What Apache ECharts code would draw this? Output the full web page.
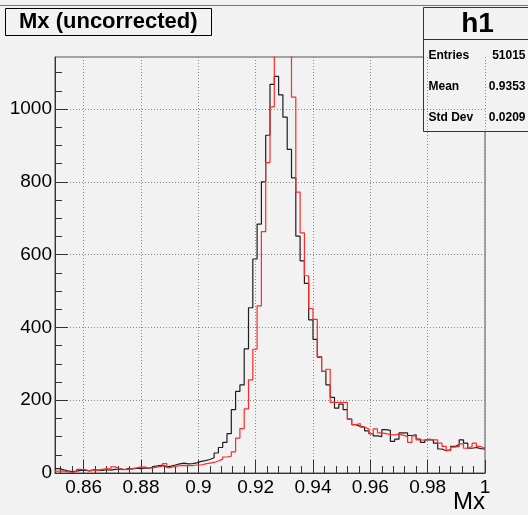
<!DOCTYPE html>
<html>
<head>
<meta charset="utf-8">
<script src="https://cdn.jsdelivr.net/npm/echarts@6/dist/echarts.min.js"></script>
<style>
  html, body { margin: 0; padding: 0; background: #f2f2f2; }
  #chart { width: 528px; height: 515px; }
</style>
</head>
<body>
<div id="chart"></div>
<script>
// histogram binning: 100 bins of 0.0015 from 0.85 to 1.0
const xLo = 0.85
const xHi = 1.0
const binWidth = 0.0015

// black histogram (h1)
const blackCounts = [
  12, 9, 6, 4, 5, 7, 8, 6, 9, 8,
  7, 9, 8, 10, 11, 9, 12, 11, 13, 12,
  14, 13, 18, 20, 21, 17, 19, 22, 25, 27,
  25, 26, 28, 32, 34, 37, 42, 55, 70, 84,
  108, 174, 224, 242, 341, 454, 588, 684, 800, 928,
  1068, 1090, 1039, 978, 889, 811, 651, 583, 521, 421,
  367, 318, 279, 242, 208, 178, 189, 174, 148, 133,
  128, 126, 116, 108, 102, 100, 119, 117, 87, 93,
  110, 110, 103, 105, 93, 84, 91, 91, 82, 66,
  61, 64, 73, 78, 91, 82, 68, 70, 67, 66
]

// red histogram (peak bins run off the top of the frame)
const redCounts = [
  5, 6, 3, 2, 4, 10, 9, 6, 8, 7,
  10, 12, 11, 17, 13, 10, 9, 12, 14, 17,
  16, 13, 15, 17, 19, 26, 15, 18, 20, 21,
  20, 20, 22, 22, 25, 27, 29, 33, 38, 44,
  46, 58, 96, 122, 176, 256, 340, 459, 663, 853,
  1006, 1250, 1420, 1380, 1200, 1033, 772, 660, 542, 452,
  422, 320, 279, 285, 194, 194, 194, 194, 148, 133,
  136, 126, 121, 108, 121, 110, 108, 105, 105, 107,
  104, 100, 84, 102, 91, 90, 93, 91, 91, 82,
  73, 62, 71, 73, 80, 68, 73, 82, 73, 68
]

const yMax = 1143
const xMajorTicks = [0.86, 0.88, 0.9, 0.92, 0.94, 0.96, 0.98, 1.0]
const yMajorTicks = [0, 200, 400, 600, 800, 1000]

// minor ticks: 5 divisions on x, 4 on y (ROOT style)
const xMinorTicks = []
for (let v = 0.852; v < xHi; v += 0.004) {
  const r = +v.toFixed(3)
  if (!xMajorTicks.some(m => Math.abs(m - r) < 1e-6)) xMinorTicks.push(r)
}
const yMinorTicks = []
for (let v = 50; v < yMax; v += 50) {
  if (v % 200 !== 0) yMinorTicks.push(v)
}

const statsRows = [
  ['Entries', '51015'],
  ['Mean', '0.9353'],
  ['Std Dev', '0.0209']
]

function histData (counts) {
  const pts = counts.map((c, i) => [+(xLo + i * binWidth).toFixed(5), c])
  pts.push([xHi, counts[counts.length - 1]])
  return pts
}

const font = 'Liberation Sans'
const gridLine = { show: true, lineStyle: { color: '#8a8a8a', type: [1, 2], width: 1 } }

const chart = echarts.init(document.getElementById('chart'))
chart.setOption({
  animation: false,
  backgroundColor: '#f2f2f2',
  textStyle: { fontFamily: font },
  title: {
    text: 'Mx (uncorrected)',
    left: 5,
    top: 8,
    padding: [3, 14, 3, 14],
    borderColor: '#000',
    borderWidth: 1,
    backgroundColor: '#f2f2f2',
    textStyle: { fontFamily: font, fontWeight: 'bold', fontSize: 22, color: '#000', lineHeight: 22 }
  },
  grid: {
    left: 55, right: 43, top: 57, bottom: 42,
    show: true, borderColor: '#555', borderWidth: 1, backgroundColor: 'transparent'
  },
  xAxis: [
    {
      type: 'value', min: xLo, max: xHi, position: 'bottom',
      axisLine: { show: true, lineStyle: { color: '#333' } },
      axisTick: { show: true, inside: true, length: 13, customValues: xMajorTicks, lineStyle: { color: '#333' } },
      axisLabel: {
        customValues: xMajorTicks, margin: 5, fontSize: 19, color: '#000', fontFamily: font,
        formatter: v => String(+v.toFixed(2))
      },
      splitLine: gridLine,
      name: 'Mx', nameLocation: 'end', nameGap: -32, nameMoveOverlap: false,
      nameTextStyle: {
        fontSize: 24, color: '#000', fontFamily: font,
        align: 'left', verticalAlign: 'top', padding: [17, 0, 0, 0]
      }
    },
    {
      type: 'value', min: xLo, max: xHi, position: 'bottom',
      axisLine: { show: false },
      axisTick: { show: true, inside: true, length: 7, customValues: xMinorTicks, lineStyle: { color: '#333' } },
      axisLabel: { show: false },
      splitLine: { show: false }
    }
  ],
  yAxis: [
    {
      type: 'value', min: 0, max: yMax, position: 'left',
      axisLine: { show: true, lineStyle: { color: '#333' } },
      axisTick: { show: true, inside: true, length: 13, customValues: yMajorTicks, lineStyle: { color: '#333' } },
      axisLabel: {
        customValues: yMajorTicks, margin: 3, fontSize: 19, color: '#000', fontFamily: font,
        formatter: v => String(v)
      },
      splitLine: gridLine
    },
    {
      type: 'value', min: 0, max: yMax, position: 'left',
      axisLine: { show: false },
      axisTick: { show: true, inside: true, length: 7, customValues: yMinorTicks, lineStyle: { color: '#333' } },
      axisLabel: { show: false },
      splitLine: { show: false }
    }
  ],
  series: [
    {
      name: 'h1', type: 'line', step: 'end', symbol: 'none',
      xAxisIndex: 0, yAxisIndex: 0, clip: true,
      lineStyle: { color: '#1e1e1e', width: 1.2 },
      data: histData(blackCounts)
    },
    {
      name: 'h2', type: 'line', step: 'end', symbol: 'none',
      xAxisIndex: 0, yAxisIndex: 0, clip: true,
      lineStyle: { color: '#ff2a2a', width: 1.2 },
      data: histData(redCounts)
    }
  ],
  graphic: [
    { type: 'line', shape: { x1: 0, y1: 5.5, x2: 528, y2: 5.5 }, style: { stroke: '#ff3b3b', lineWidth: 1 }, z: 100 },
    {
      type: 'group', left: 421, top: 7, z: 100,
      children: [
        { type: 'rect', shape: { x: 0, y: 0, width: 120, height: 124 }, style: { fill: '#f2f2f2', stroke: '#333', lineWidth: 1 } },
        { type: 'line', shape: { x1: 0, y1: 32, x2: 120, y2: 32 }, style: { stroke: '#333', lineWidth: 1 } },
        { type: 'text', x: 54, y: 17, style: { text: 'h1', font: 'bold 28px "Liberation Sans"', fill: '#000', align: 'center', verticalAlign: 'middle' } }
      ].concat(statsRows.flatMap((r, i) => [
        { type: 'text', x: 5, y: 48 + i * 31, style: { text: r[0], font: 'bold 12px "Liberation Sans"', fill: '#000', align: 'left', verticalAlign: 'middle' } },
        { type: 'text', x: 102, y: 48 + i * 31, style: { text: r[1], font: 'bold 12px "Liberation Sans"', fill: '#000', align: 'right', verticalAlign: 'middle' } }
      ]))
    }
  ]
})
</script>
</body>
</html>
